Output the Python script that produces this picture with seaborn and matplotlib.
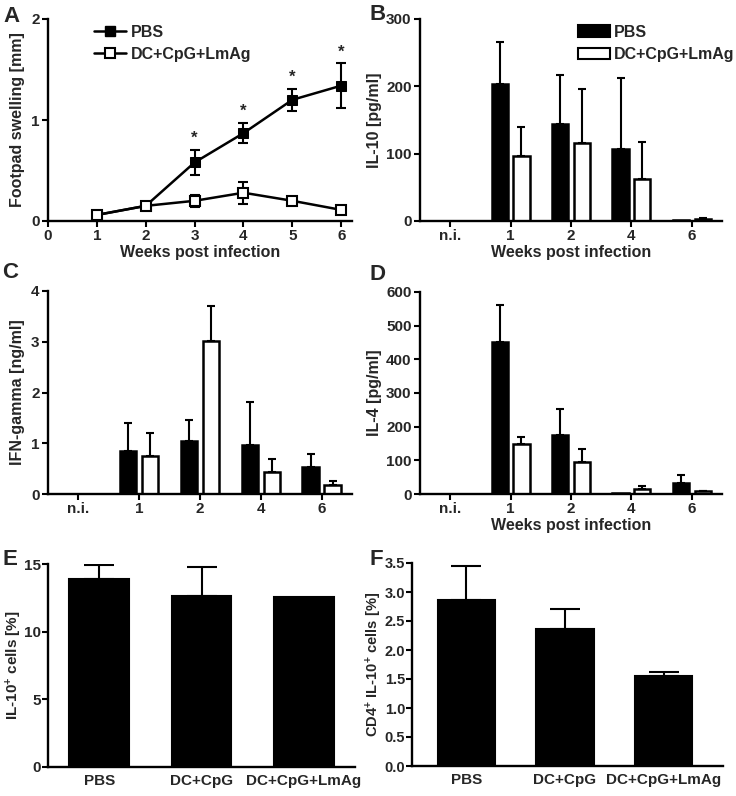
import numpy as np
import pandas as pd
import matplotlib
matplotlib.use("Agg")
import matplotlib.pyplot as plt
import seaborn as sns
from matplotlib.lines import Line2D
from matplotlib.patches import Patch

# ---------------- data ----------------
weeks_a = [1, 2, 3, 4, 5, 6]
pbs_swell = [0.06, 0.15, 0.58, 0.87, 1.20, 1.34]
pbs_swell_err = [0.02, 0.02, 0.12, 0.10, 0.11, 0.22]
dc_swell = [0.06, 0.15, 0.20, 0.28, 0.20, 0.11]
dc_swell_err = [0.02, 0.02, 0.06, 0.11, 0.02, 0.02]
star_weeks = [3, 4, 5, 6]

groups = ["PBS", "DC+CpG+LmAg"]
cyto_cats = ["n.i.", "1", "2", "4", "6"]

il10_pbs = [0, 203, 144, 107, 1]
il10_pbs_err = [0, 63, 73, 106, 0]
il10_dc = [0, 97, 116, 62, 3]
il10_dc_err = [0, 43, 80, 56, 1]

ifng_pbs = [0, 0.85, 1.05, 0.96, 0.53]
ifng_pbs_err = [0, 0.54, 0.41, 0.86, 0.25]
ifng_dc = [0, 0.74, 3.02, 0.44, 0.18]
ifng_dc_err = [0, 0.46, 0.68, 0.24, 0.07]

il4_pbs = [0, 450, 176, 2, 32]
il4_pbs_err = [0, 110, 77, 0, 23]
il4_dc = [0, 148, 94, 14, 8]
il4_dc_err = [0, 22, 39, 11, 2]

treat_cats = ["PBS", "DC+CpG", "DC+CpG+LmAg"]
il10_cells = [13.9, 12.63, 12.53]
il10_cells_err = [1.0, 2.14, 0.0]
cd4_il10_cells = [2.86, 2.36, 1.555]
cd4_il10_cells_err = [0.58, 0.34, 0.065]

# ---------------- style ----------------
sns.set_style("ticks")
plt.rcParams["font.family"] = ["Liberation Sans", "DejaVu Sans"]
plt.rcParams["font.weight"] = "bold"
plt.rcParams["axes.labelweight"] = "bold"
plt.rcParams["mathtext.fontset"] = "custom"
plt.rcParams["mathtext.bf"] = "Liberation Sans:bold"
plt.rcParams["mathtext.rm"] = "Liberation Sans:bold"
plt.rcParams["mathtext.default"] = "bf"

TICK_FS = 11
LAB_FS = 11.5
LW = 1.5

fig = plt.figure(figsize=(7.36, 7.96), dpi=100)
W, H = 736, 796

def frac(l, r, t, b):
    return [l / W, 1 - b / H, (r - l) / W, (b - t) / H]

axA = fig.add_axes(frac(48, 352, 19, 221))
axB = fig.add_axes(frac(420, 722, 19, 221))
axC = fig.add_axes(frac(48, 352, 291, 494))
axD = fig.add_axes(frac(420, 722, 292, 494))
axE = fig.add_axes(frac(48, 355, 564, 767))
axF = fig.add_axes(frac(412, 723, 563, 766))

def style_axis(ax, ylab_px):
    sns.despine(ax=ax)
    for s in ["left", "bottom"]:
        ax.spines[s].set_linewidth(1.7)
        ax.spines[s].set_color("black")
    ax.tick_params(axis="both", direction="out", length=4, width=LW,
                   labelsize=TICK_FS, color="black", pad=2)
    for lab in ax.get_xticklabels() + ax.get_yticklabels():
        lab.set_fontweight("bold")
    bb = ax.get_position()
    left_px = bb.x0 * W
    width_px = bb.width * W
    ax.yaxis.set_label_coords((ylab_px - left_px) / width_px, 0.5)
    ax.yaxis.label.set_va("center")

# ---------------- Panel A ----------------
dfA = pd.DataFrame({
    "week": weeks_a * 2,
    "swelling": pbs_swell + dc_swell,
    "group": [groups[0]] * 6 + [groups[1]] * 6,
})
sns.lineplot(data=dfA, x="week", y="swelling", hue="group", style="group",
             palette=["black", "black"], markers=["s", "s"], dashes=False,
             linewidth=1.8, markersize=7, ax=axA, legend=False)
lines = axA.get_lines()
lines[0].set_markerfacecolor("black")
lines[0].set_markeredgecolor("black")
lines[1].set_markerfacecolor("white")
lines[1].set_markeredgecolor("black")
lines[1].set_markeredgewidth(1.5)
lines[0].set_zorder(3)
lines[1].set_zorder(4)
axA.errorbar(weeks_a, pbs_swell, yerr=pbs_swell_err, fmt="none",
             ecolor="black", elinewidth=LW, capsize=3.8, capthick=LW, zorder=2)
axA.errorbar(weeks_a, dc_swell, yerr=dc_swell_err, fmt="none",
             ecolor="black", elinewidth=LW, capsize=3.8, capthick=LW, zorder=2)
for w in star_weeks:
    i = weeks_a.index(w)
    axA.text(w, pbs_swell[i] + pbs_swell_err[i] + 0.04, "*", ha="center",
             va="bottom", fontsize=12, fontweight="bold")
axA.set_xlim(0, 6.22)
axA.set_ylim(0, 2)
axA.set_xticks(range(0, 7))
axA.set_yticks([0, 1, 2])
axA.set_xlabel("Weeks post infection", fontsize=LAB_FS, labelpad=1)
axA.set_ylabel("Footpad swelling [mm]", fontsize=LAB_FS)
hA = [Line2D([], [], color="black", lw=1.8, marker="s", markersize=7,
             markerfacecolor="black"),
      Line2D([], [], color="black", lw=1.8, marker="s", markersize=7,
             markerfacecolor="white", markeredgewidth=1.5)]
axA.legend(hA, groups, loc="upper left", bbox_to_anchor=(0.12, 1.02),
           frameon=False, handlelength=2.0,
           handletextpad=0.3, labelspacing=0.45, borderaxespad=0.2,
           prop={"weight": "bold", "size": LAB_FS})
style_axis(axA, 18)

# ---------------- grouped bar helper ----------------
def grouped_bars(ax, pbs, pbs_err, dc, dc_err):
    df = pd.DataFrame({
        "cat": cyto_cats * 2,
        "val": pbs + dc,
        "group": [groups[0]] * len(cyto_cats) + [groups[1]] * len(cyto_cats),
    })
    sns.barplot(data=df, x="cat", y="val", hue="group", order=cyto_cats,
                hue_order=groups, palette=["black", "white"],
                edgecolor="black", linewidth=1.8, width=0.72, gap=0.25,
                errorbar=None, ax=ax, legend=False, saturation=1)
    errs = [pbs_err, dc_err]
    vals = [pbs, dc]
    for p in ax.patches:
        cx = p.get_x() + p.get_width() / 2
        ci = int(round(cx))
        gi = 0 if cx < ci else 1
        e = errs[gi][ci]
        v = vals[gi][ci]
        if e > 0:
            ax.errorbar([cx], [v], yerr=[[0], [e]], fmt="none", ecolor="black",
                        elinewidth=LW, capsize=3, capthick=LW, zorder=1)
    ax.set_xlim(-0.5, 4.5)
    ax.set_xlabel("")
    ax.set_ylabel("")

grouped_bars(axB, il10_pbs, il10_pbs_err, il10_dc, il10_dc_err)
axB.set_ylim(0, 300)
axB.set_yticks([0, 100, 200, 300])
axB.set_xlabel("Weeks post infection", fontsize=LAB_FS, labelpad=1)
axB.set_ylabel("IL-10 [pg/ml]", fontsize=LAB_FS)
hB = [Patch(facecolor="black", edgecolor="black", linewidth=LW),
      Patch(facecolor="white", edgecolor="black", linewidth=LW)]
axB.legend(hB, groups, loc="upper left", bbox_to_anchor=(0.49, 1.02),
           frameon=False, handlelength=2.0, handleheight=0.7,
           handletextpad=0.3, labelspacing=0.45, borderaxespad=0.2,
           prop={"weight": "bold", "size": LAB_FS})
style_axis(axB, 375)

grouped_bars(axC, ifng_pbs, ifng_pbs_err, ifng_dc, ifng_dc_err)
axC.set_ylim(0, 4)
axC.set_yticks([0, 1, 2, 3, 4])
axC.set_ylabel("IFN-gamma [ng/ml]", fontsize=LAB_FS)
style_axis(axC, 18)

grouped_bars(axD, il4_pbs, il4_pbs_err, il4_dc, il4_dc_err)
axD.set_ylim(0, 600)
axD.set_yticks(range(0, 700, 100))
axD.set_xlabel("Weeks post infection", fontsize=LAB_FS, labelpad=1)
axD.set_ylabel("IL-4 [pg/ml]", fontsize=LAB_FS)
style_axis(axD, 375)

# ---------------- Panels E, F ----------------
def single_bars(ax, vals, errs):
    df = pd.DataFrame({"cat": treat_cats, "val": vals})
    sns.barplot(data=df, x="cat", y="val", order=treat_cats, color="black",
                edgecolor="black", linewidth=LW, width=0.58, errorbar=None,
                ax=ax, saturation=1)
    for p in ax.patches:
        cx = p.get_x() + p.get_width() / 2
        ci = int(round(cx))
        if errs[ci] > 0:
            ax.errorbar([cx], [vals[ci]], yerr=[[0], [errs[ci]]], fmt="none",
                        ecolor="black", elinewidth=LW, capsize=10.5,
                        capthick=LW, zorder=1)
    ax.set_xlabel("")

single_bars(axE, il10_cells, il10_cells_err)
axE.set_xlim(-0.5, 2.5)
axE.set_ylim(0, 15)
axE.set_yticks([0, 5, 10, 15])
axE.set_ylabel(r"IL-10$^{+}$ cells [%]", fontsize=11)
style_axis(axE, 14)
axE.tick_params(axis="x", length=0, pad=5)
axE.tick_params(axis="y", pad=1)

single_bars(axF, cd4_il10_cells, cd4_il10_cells_err)
axF.set_xlim(-0.55, 2.6)
axF.set_ylim(0, 3.5)
axF.set_yticks(np.arange(0, 3.51, 0.5))
axF.set_yticklabels([f"{v:.1f}" for v in np.arange(0, 3.51, 0.5)])
axF.set_ylabel(r"CD4$^{+}$ IL-10$^{+}$ cells [%]", fontsize=10.5)
style_axis(axF, 374)
axF.tick_params(axis="x", length=0, pad=5)
axF.tick_params(axis="y", labelsize=10.5, pad=1)

# panel letters
for letter, x, y in [("A", 3, 6), ("B", 370, 4), ("C", 2, 262),
                     ("D", 370, 264), ("E", 2, 549), ("F", 370, 549)]:
    fig.text(x / W, 1 - y / H, letter, fontsize=16, fontweight="bold",
             va="top", ha="left")

fig.savefig("out.png", dpi=100)
